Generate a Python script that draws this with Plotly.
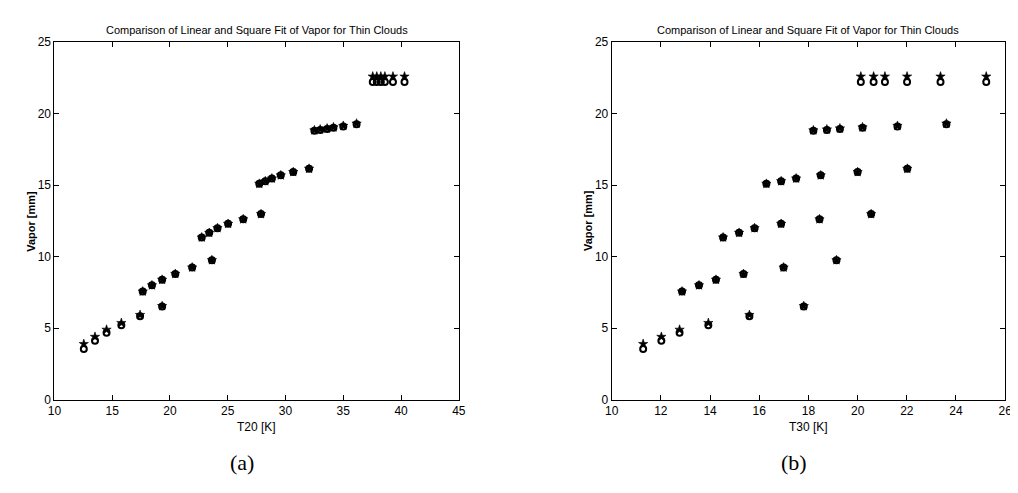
import plotly.graph_objects as go

# Vapor values [mm] (shared by both panels), six groups of six points
vapor_linear = [3.90, 4.40, 4.90, 5.37, 5.93, 6.55,
                7.57, 8.00, 8.39, 8.80, 9.25, 9.76,
                11.35, 11.67, 12.00, 12.30, 12.62, 12.98,
                15.10, 15.28, 15.47, 15.69, 15.92, 16.15,
                18.84, 18.90, 18.97, 19.05, 19.15, 19.31,
                22.60, 22.60, 22.60, 22.60, 22.60, 22.60]
vapor_square = [3.55, 4.12, 4.68, 5.21, 5.83, 6.52,
                7.57, 8.00, 8.39, 8.80, 9.25, 9.76,
                11.35, 11.67, 12.00, 12.30, 12.62, 12.98,
                15.10, 15.28, 15.47, 15.69, 15.92, 16.15,
                18.80, 18.86, 18.93, 19.01, 19.11, 19.27,
                22.22, 22.22, 22.22, 22.22, 22.22, 22.22]

# T20 [K] (panel a)
t20 = [12.54, 13.51, 14.51, 15.79, 17.41, 19.32,
       17.64, 18.44, 19.32, 20.46, 21.92, 23.63,
       22.75, 23.40, 24.11, 25.03, 26.34, 27.88,
       27.73, 28.25, 28.82, 29.59, 30.67, 32.04,
       32.50, 33.00, 33.60, 34.15, 35.00, 36.15,
       37.55, 37.90, 38.25, 38.60, 39.30, 40.30]

# T30 [K] (panel b)
t30 = [11.28, 12.02, 12.76, 13.93, 15.60, 17.81,
       12.86, 13.55, 14.24, 15.36, 16.99, 19.14,
       14.53, 15.18, 15.81, 16.89, 18.45, 20.55,
       16.29, 16.89, 17.50, 18.50, 20.00, 22.02,
       18.20, 18.75, 19.28, 20.20, 21.62, 23.61,
       20.13, 20.65, 21.11, 22.01, 23.37, 25.23]

title_text = "Comparison of Linear and Square Fit of Vapor for Thin Clouds"
x_ticks_a = [10, 15, 20, 25, 30, 35, 40, 45]
x_ticks_b = [10, 12, 14, 16, 18, 20, 22, 24, 26]
y_ticks = [0, 5, 10, 15, 20, 25]

W, H = 1018, 493
fig = go.Figure()

for xs, xa, ya in [(t20, "x", "y"), (t30, "x2", "y2")]:
    fig.add_trace(go.Scatter(x=xs, y=vapor_square, mode="markers", xaxis=xa, yaxis=ya,
                             marker=dict(symbol="circle-open", size=6, color="black",
                                         line=dict(width=2, color="black")),
                             showlegend=False, hoverinfo="x+y"))
    fig.add_trace(go.Scatter(x=xs, y=vapor_linear, mode="markers", xaxis=xa, yaxis=ya,
                             marker=dict(symbol="star", size=7, color="black",
                                         line=dict(width=0.6, color="black")),
                             showlegend=False, hoverinfo="x+y"))

ydom = [1 - 396 / H, 1 - 28 / H]
dom_a = [40 / W, 450 / W]
dom_b = [605 / W, 1004 / W]

tickfont = dict(family="Liberation Sans, Arial, sans-serif", size=12, color="black")
common = dict(showgrid=False, zeroline=False, showline=True, linecolor="black", linewidth=1,
              mirror="ticks", ticks="inside", ticklen=5, tickcolor="black", tickwidth=1,
              tickfont=tickfont)

fig.update_layout(
    width=W, height=H, margin=dict(l=0, r=0, t=0, b=0),
    paper_bgcolor="white", plot_bgcolor="white",
    xaxis=dict(domain=dom_a, range=[10, 45], tickvals=x_ticks_a, anchor="y", **common),
    yaxis=dict(domain=ydom, range=[0, 25], tickvals=y_ticks, anchor="x", **common),
    xaxis2=dict(domain=dom_b, range=[10, 26], tickvals=x_ticks_b, anchor="y2", **common),
    yaxis2=dict(domain=ydom, range=[0, 25], tickvals=y_ticks, anchor="x2", **common),
)

font_lbl = dict(family="Liberation Sans, Arial, sans-serif", size=12, color="black")
ann = []
for dom, xlab, panel in [(dom_a, "T20 [K]", "(a)"), (dom_b, "T30 [K]", "(b)")]:
    cx = (dom[0] + dom[1]) / 2
    ann.append(dict(text=title_text, x=cx, y=1 - 15 / H, xref="paper", yref="paper",
                    showarrow=False, font=dict(family="Liberation Sans, Arial, sans-serif", size=11, color="black"),
                    xanchor="center", yanchor="middle"))
    ann.append(dict(text=xlab, x=cx, y=1 - 424 / H, xref="paper", yref="paper",
                    showarrow=False, font=font_lbl, xanchor="center", yanchor="middle"))
    ann.append(dict(text="<b>Vapor [mm]</b>", x=dom[0] - 24 / W, y=(ydom[0] + ydom[1]) / 2,
                    xref="paper", yref="paper", showarrow=False, textangle=-90,
                    font=dict(family="Liberation Sans, Arial, sans-serif", size=11, color="black"),
                    xanchor="center", yanchor="middle"))
    ann.append(dict(text=panel, x=cx - 15 / W, y=1 - 461 / H, xref="paper", yref="paper",
                    showarrow=False, font=dict(family="Liberation Serif, DejaVu Serif, serif", size=22, color="black"),
                    xanchor="center", yanchor="middle"))
fig.update_layout(annotations=ann)

fig.write_html("out.html")
